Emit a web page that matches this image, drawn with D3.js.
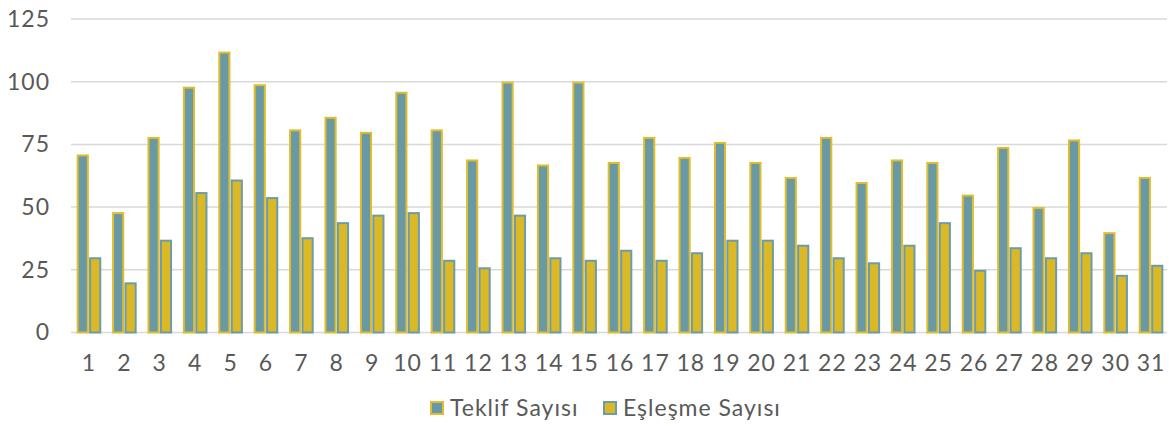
<!DOCTYPE html>
<html>
<head>
<meta charset="utf-8">
<script src="https://cdn.jsdelivr.net/npm/d3@7"></script>
<style>
  body { margin: 0; background: #fff; }
  text { font-family: "Lato", "Noto Sans", sans-serif; fill: #595959; letter-spacing: 1px; }
</style>
</head>
<body>
<div id="chart"></div>
<script>
// Data
const days = d3.range(1, 32).map(String);
const teklif = [71, 48, 78, 98, 112, 99, 81, 86, 80, 96, 81, 69, 100, 67, 100, 68, 78, 70, 76, 68,
                62, 78, 60, 69, 68, 55, 74, 50, 77, 40, 62];
const eslesme = [30, 20, 37, 56, 61, 54, 38, 44, 47, 48, 29, 26, 47, 30, 29, 33, 29, 32, 37, 37,
                 35, 30, 28, 35, 44, 25, 34, 30, 32, 23, 27];
const seriesNames = ["Teklif Sayısı", "Eşleşme Sayısı"];
const yTicks = [0, 25, 50, 75, 100, 125];

const width = 1173, height = 426;
const plot = { left: 71, right: 1169, top: 19, bottom: 332.5 };

const teal = "#6899A4", gold = "#DBB825";
const fills = [teal, gold];
const strokes = ["#E0BD2F", "#6C9CA7"];

const svg = d3.select("#chart")
    .append("svg")
    .attr("width", width)
    .attr("height", height);

// Scales
const x0 = d3.scaleBand()
    .domain(days)
    .range([plot.left, plot.right])
    .paddingInner(0.305)
    .paddingOuter(0.16);

const x1 = d3.scaleBand()
    .domain([0, 1])
    .range([0, x0.bandwidth()])
    .paddingInner(0.02);

const y = d3.scaleLinear()
    .domain([0, 125])
    .range([plot.bottom, plot.top]);

// Gridlines
svg.append("g")
    .selectAll("line")
    .data(yTicks)
    .enter()
    .append("line")
    .attr("x1", plot.left)
    .attr("x2", plot.right - 2)
    .attr("y1", d => y(d))
    .attr("y2", d => y(d))
    .attr("stroke", "#d9d9d9")
    .attr("stroke-width", 1.5);

// Y axis labels
const yAxis = svg.append("g")
    .attr("transform", "translate(50,0)")
    .call(d3.axisLeft(y).tickValues(yTicks).tickSize(0).tickPadding(0));
yAxis.select(".domain").remove();
yAxis.selectAll("text")
    .style("font-size", "23px")
    .attr("fill", "#595959");

// Bars
const groups = svg.append("g")
    .selectAll("g")
    .data(days)
    .enter()
    .append("g")
    .attr("transform", d => `translate(${x0(d)},0)`);

[teklif, eslesme].forEach((values, s) => {
    groups.append("rect")
        .attr("x", x1(s) + 1)
        .attr("y", (d, i) => y(values[i]) + 1)
        .attr("width", x1.bandwidth() - 2)
        .attr("height", (d, i) => Math.max(0, y(0) - y(values[i]) - 1))
        .attr("fill", fills[s])
        .attr("stroke", strokes[s])
        .attr("stroke-width", 2);
});

// X axis labels
const xAxis = svg.append("g")
    .attr("transform", `translate(0,${plot.bottom + 22})`)
    .call(d3.axisBottom(x0).tickSize(0).tickPadding(0));
xAxis.select(".domain").remove();
xAxis.selectAll("text")
    .style("font-size", "23px")
    .attr("fill", "#595959");

// Legend
const legend = svg.append("g");
const legendX = [431, 604];
seriesNames.forEach((name, s) => {
    legend.append("rect")
        .attr("x", legendX[s])
        .attr("y", 402)
        .attr("width", 12)
        .attr("height", 12)
        .attr("fill", fills[s])
        .attr("stroke", strokes[s])
        .attr("stroke-width", 2);
    legend.append("text")
        .attr("x", legendX[s] + 19)
        .attr("y", 416)
        .style("font-size", "23px")
        .text(name);
});
</script>
</body>
</html>
